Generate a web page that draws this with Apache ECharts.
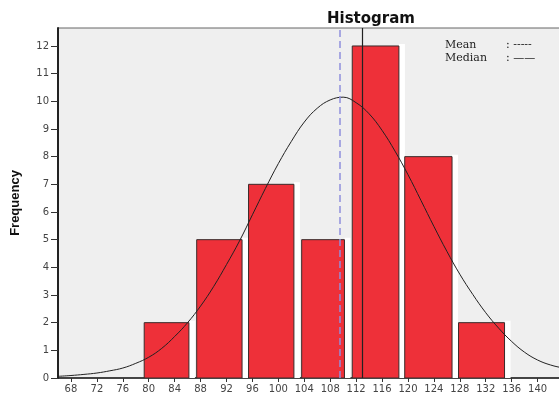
<!DOCTYPE html>
<html>
<head>
<meta charset="utf-8">
<script src="https://cdn.jsdelivr.net/npm/echarts@6/dist/echarts.min.js"></script>
<style>html,body{margin:0;padding:0;background:#fff}#c{width:559px;height:396px}</style>
</head>
<body>
<div id="c"></div>
<script>
// Histogram bins (start, end, frequency)
var binStart = [79.3, 87.4, 95.4, 103.6, 111.4, 119.5, 127.8];
var binEnd   = [86.2, 94.4, 102.4, 110.2, 118.6, 126.8, 134.9];
var freq     = [2, 5, 7, 5, 12, 8, 2];
// Fitted normal curve
var curveX = [66, 68, 70, 72, 74, 76, 78, 80, 82, 84, 86, 88, 90, 92, 94, 96, 98, 100, 102, 104, 106, 108, 110,
              112, 114, 116, 118, 120, 122, 124, 126, 128, 130, 132, 134, 136, 138, 140, 142, 144, 146];
var curveY = [0.06, 0.09, 0.13, 0.18, 0.26, 0.36, 0.53, 0.75, 1.07, 1.5, 2.0, 2.6, 3.3, 4.1, 4.95, 5.9, 6.85, 7.75, 8.55, 9.25, 9.75, 10.05, 10.15,
              9.95, 9.55, 8.95, 8.2, 7.35, 6.42, 5.48, 4.58, 3.75, 3.02, 2.36, 1.8, 1.32, 0.93, 0.65, 0.47, 0.36, 0.28];
var meanValue = 109.4;
var medianValue = 112.9;
var xTicks = [68, 72, 76, 80, 84, 88, 92, 96, 100, 104, 108, 112, 116, 120, 124, 128, 132, 136, 140];
var yTicks = [0, 1, 2, 3, 4, 5, 6, 7, 8, 9, 10, 11, 12];

var barData = binStart.map(function (s, i) { return [s, binEnd[i], freq[i]]; });
var curveData = curveX.map(function (x, i) { return [x, curveY[i]]; });

var chart = echarts.init(document.getElementById('c'), null, {renderer: 'canvas'});
var font = '"Liberation Sans", Arial, sans-serif';
var tickFont = '"DejaVu Sans", sans-serif';
var serif = '11px "DejaVu Serif", serif';
chart.setOption({
  animation: false,
  backgroundColor: '#ffffff',
  title: {
    text: 'Histogram', left: 322, top: 7,
    textStyle: {fontFamily: '"DejaVu Sans", sans-serif', fontSize: 15, fontWeight: 'bold', color: '#111'}
  },
  grid: {
    left: 58, right: -11, top: 28, bottom: 18,
    outerBoundsMode: 'none', containLabel: false,
    show: true, backgroundColor: '#efefef', borderColor: '#666', borderWidth: 1
  },
  xAxis: {
    type: 'value', min: 66, max: 145,
    splitLine: {show: false},
    axisLine: {show: true, onZero: false, lineStyle: {color: '#222', width: 1.5}},
    axisTick: {show: true, customValues: xTicks, length: 4, lineStyle: {color: '#333'}},
    axisLabel: {customValues: xTicks, margin: 6, color: '#444', fontFamily: tickFont, fontSize: 10}
  },
  yAxis: {
    type: 'value', min: 0, max: 12.65,
    name: 'Frequency', nameLocation: 'middle', nameGap: 36,
    nameTextStyle: {fontFamily: font, fontSize: 13, fontWeight: 'bold', color: '#111'},
    splitLine: {show: false},
    axisLine: {show: true, lineStyle: {color: '#222', width: 2}},
    axisTick: {show: true, customValues: yTicks, length: 7, lineStyle: {color: '#333'}},
    axisLabel: {customValues: yTicks, margin: 9, color: '#444', fontFamily: tickFont, fontSize: 10}
  },
  series: [
    {
      type: 'custom',
      data: barData,
      clip: true,
      renderItem: function (params, api) {
        var top = api.coord([api.value(0), api.value(2)]);
        var bot = api.coord([api.value(1), 0]);
        return {
          type: 'group',
          children: [
            {type: 'rect', shape: {x: bot[0], y: top[1] - 2, width: 6, height: bot[1] - top[1] + 2},
             style: {fill: '#ffffff'}},
            {type: 'rect', shape: {x: top[0], y: top[1], width: bot[0] - top[0], height: bot[1] - top[1]},
             style: {fill: '#ee3039', stroke: '#3a2a2a', lineWidth: 1}}
          ]
        };
      },
      z: 2
    },
    {
      type: 'line',
      data: curveData,
      smooth: 0.4,
      showSymbol: false,
      lineStyle: {color: '#222', width: 1},
      z: 4,
      markLine: {
        silent: true,
        symbol: 'none',
        label: {show: false},
        data: [
          {xAxis: meanValue, lineStyle: {color: '#9090dd', type: [7, 4], width: 1.5}},
          {xAxis: medianValue, lineStyle: {color: '#222', type: 'solid', width: 1.2}}
        ]
      }
    }
  ],
  graphic: [
    {type: 'text', left: 445, top: 40, style: {text: 'Mean', font: serif, fill: '#222'}},
    {type: 'text', left: 445, top: 53, style: {text: 'Median', font: serif, fill: '#222'}},
    {type: 'text', left: 506, top: 40, style: {text: ': -----', font: serif, fill: '#222'}},
    {type: 'text', left: 506, top: 53, style: {text: ': \u2014\u2014', font: serif, fill: '#222'}}
  ]
});
</script>
</body>
</html>
